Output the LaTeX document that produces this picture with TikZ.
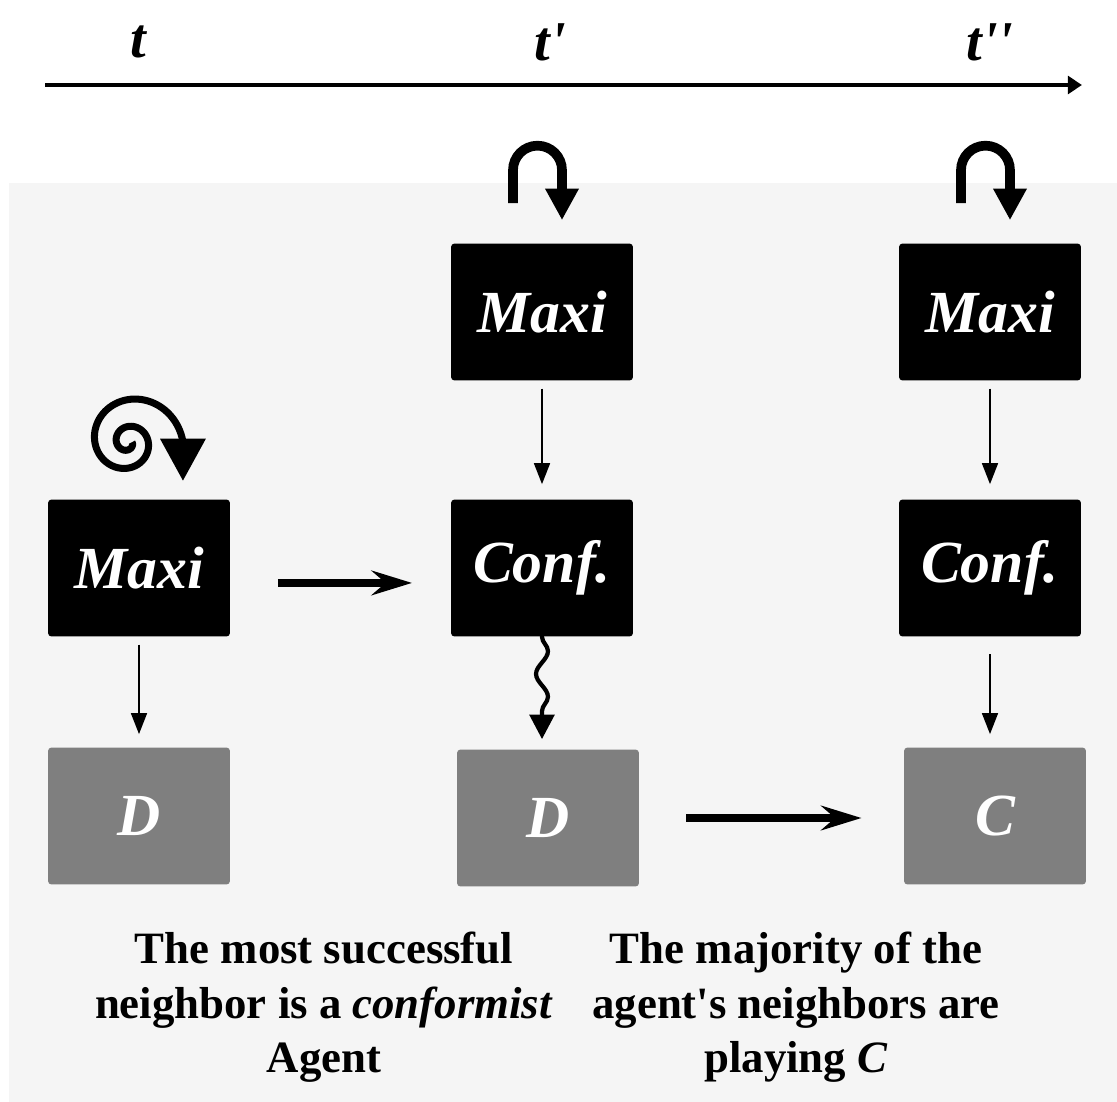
\documentclass[tikz,border=0pt]{standalone}
\usepackage{fontspec}
\setmainfont{Liberation Serif}
\usepackage{xcolor}
\usetikzlibrary{arrows.meta,calc,decorations.pathmorphing}
\definecolor{panel}{RGB}{245,245,245}
\definecolor{stategrey}{RGB}{127,127,127}
\tikzset{
  ruleBox/.style={fill=black, rounded corners=2pt, minimum width=3.64cm, minimum height=2.74cm,
    inner sep=0pt, text=white, font=\fontsize{34}{40}\selectfont\bfseries\itshape},
  actBox/.style={ruleBox, fill=stategrey},      % strategy played
  tickLabel/.style={font=\fontsize{32}{38}\selectfont\bfseries\itshape},
  caption/.style={align=center, inner sep=0pt, font=\fontsize{25.5}{31}\selectfont\bfseries},
  timeAxis/.style={-{Triangle[length=8pt,width=10pt]}, line width=2.3pt},
  thinArrow/.style={-{Triangle[length=12pt,width=9pt]}, line width=1.3pt},
  moveArrow/.style={-{Stealth[length=23pt,width=14pt,inset=8pt]}, line width=4.2pt},
  loopArrow/.style={-{Triangle[length=18pt,width=18pt]}, line width=5.5pt},
  spiralArrow/.style={-{Triangle[length=24pt,width=25pt]}, line width=4pt},
  wavyArrow/.style={-{Triangle[length=14pt,width=14pt]}, line width=2.4pt, decorate,
    decoration={snake, amplitude=3.4pt, segment length=26pt, post length=14pt}}
}

\begin{document}
\begin{tikzpicture}[x=0.02cm, y=-0.02cm]
  \useasboundingbox (0,0) rectangle (1117,1102);
  \fill[panel] (9,183) rectangle (1117,1102);

  % time line
  \coordinate (t0) at (45,85);
  \coordinate (t1) at (1082,85);
  \draw[timeAxis] (t0) -- (t1);
  \node[tickLabel] (tA) at (138,42) {t};
  \node[tickLabel] (tB) at (550,42) {t\textquotesingle};
  \node[tickLabel] (tC) at (990,42) {t\textquotesingle\textquotesingle};

  % agent at t, t', t''
  \node[ruleBox] (maxiA) at (139,568) {Maxi};
  \node[actBox]  (dA)    at (139,816) {D};
  \node[ruleBox] (maxiB) at (542,312) {Maxi};
  \node[ruleBox] (confB) at (542,568) {Conf.};
  \node[actBox]  (dB)    at (548,818) {D};
  \node[ruleBox] (maxiC) at (990,312) {Maxi};
  \node[ruleBox] (confC) at (990,568) {Conf.};
  \node[actBox]  (cC)    at (995,816) {C};

  \draw[thinArrow, shorten <=4.5pt, shorten >=7.4pt] (maxiA) -- (dA);
  \draw[thinArrow, shorten <=4.5pt, shorten >=8.5pt] (maxiB) -- (confB);
  \draw[thinArrow, shorten <=4.5pt, shorten >=8.5pt] (maxiC) -- (confC);
  \draw[thinArrow, shorten <=10pt, shorten >=7.4pt] (confC.south) -- (confC.south |- cC.north);
  \draw[wavyArrow, shorten <=6pt, shorten >=5.7pt] (confB.south) -- (confB.south |- dB.north);
  \draw[moveArrow, shorten <=27pt, shorten >=22pt] ([yshift=-8.5pt]maxiA.east) -- ([yshift=-8.5pt]confB.west);
  \draw[moveArrow, shorten <=26.6pt, shorten >=24pt] (dB.east) -- (dB.east -| cC.west);

  % rule kept: U-turns
  \draw[loopArrow] ($(maxiB.north)+(-29,-40)$) -- ++(0,-33)
    arc[start angle=180, end angle=360, radius=24.5] -- ++(0,50);
  \draw[loopArrow] ($(maxiC.north)+(-29,-40)$) -- ++(0,-33)
    arc[start angle=180, end angle=360, radius=24.5] -- ++(0,50);

  % rule changes: spiral
  \begin{scope}[shift={($(maxiA.north)+(-11,-57)$)}, yscale=-1]
    \draw[spiralArrow] plot[domain=0:1, samples=160, smooth]
      ({(4+30*\x+21*\x^4)*cos(720*(1-\x))}, {(4+30*\x+21*\x^4)*sin(720*(1-\x))}) -- ++(0,-39);
  \end{scope}

  \node[caption, anchor=north] (noteA) at (324,932)
    {The most successful\\neighbor is a \textit{conformist}\\Agent};
  \node[caption, anchor=north] (noteB) at (796,932)
    {The majority of the\\agent\textquotesingle s neighbors are\\playing \textit{C}};
\end{tikzpicture}
\end{document}
